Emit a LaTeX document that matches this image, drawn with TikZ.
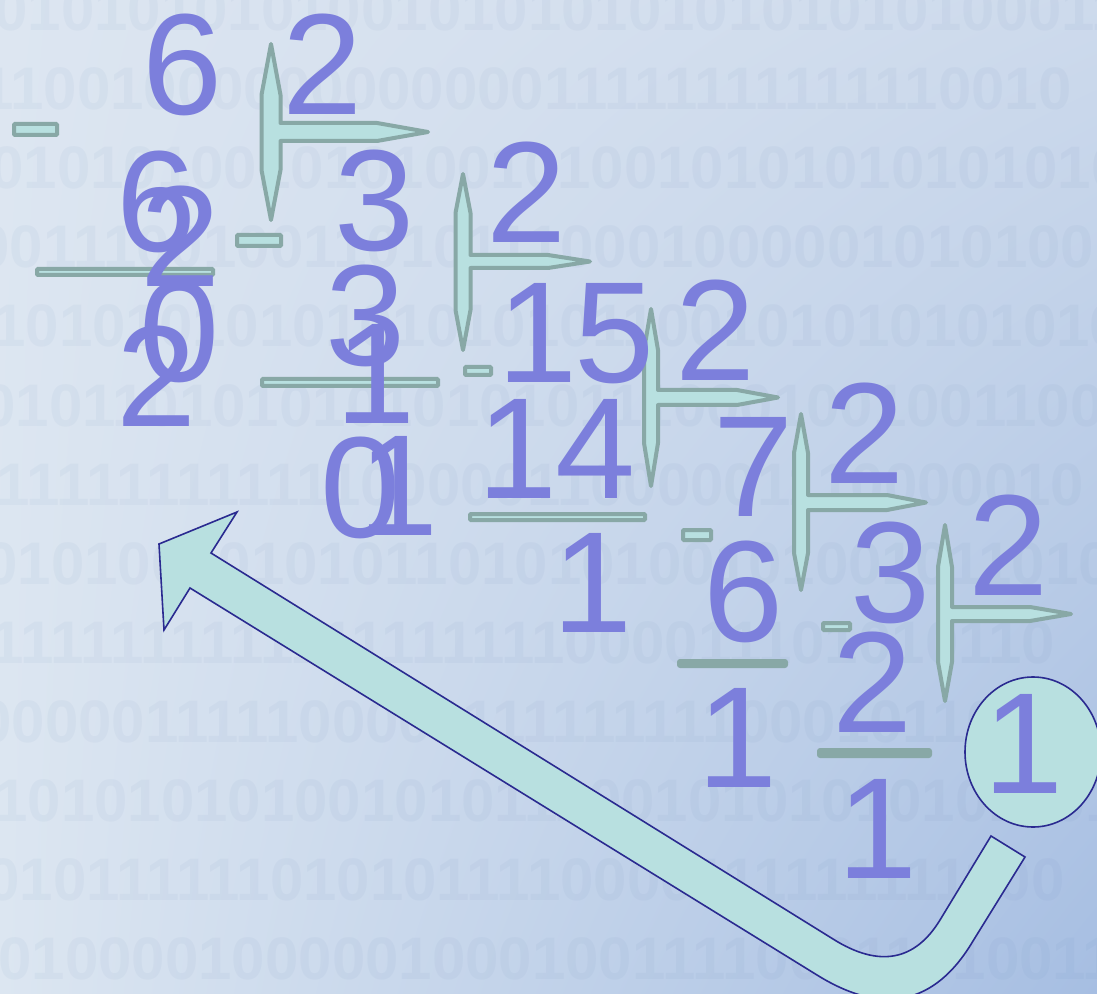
\documentclass[tikz,border=0pt]{standalone}
\usepackage{fontspec}
\setmainfont{Liberation Sans}
\usetikzlibrary{shapes.geometric,shadings}
\definecolor{digit}{HTML}{7C7FDC}
\definecolor{cyanfill}{HTML}{B8E0E0}
\definecolor{grayline}{HTML}{88A8A6}
\definecolor{navy}{HTML}{2A2A90}
\definecolor{bgUL}{HTML}{DDE6F1}
\definecolor{bgUR}{HTML}{CDDAEC}
\definecolor{bgLL}{HTML}{DCE6F1}
\definecolor{bgLR}{HTML}{A6BEE2}
\definecolor{bgdigit}{HTML}{5A7AAE}
\tikzset{
  dg/.style={font=\fontsize{72}{72}\selectfont, text=digit, inner sep=0pt, anchor=base},
  bgrow/.style={font=\fontsize{30}{30}\selectfont\bfseries, text=bgdigit, text opacity=0.055, inner sep=0pt, anchor=base west},
  brk/.style={draw=grayline, fill=cyanfill, line width=2pt, line join=round},
  minusbox/.style={draw=grayline, fill=cyanfill, line width=2pt, rounded corners=0.5pt},
  solidbar/.style={fill=grayline, rounded corners=1.5pt},
  bigarrow/.style={draw=navy, fill=cyanfill, line width=0.8pt, line join=miter},
  circ/.style={ellipse, draw=navy, fill=cyanfill, line width=0.8pt, minimum width=68pt, minimum height=75pt, inner sep=0pt}
}
\begin{document}
\begin{tikzpicture}[x=0.5pt,y=-0.5pt]
% background
\shade[upper left=bgUL, upper right=bgUR, lower left=bgLL, lower right=bgLR] (0,0) rectangle (1097,994);
\useasboundingbox (0,0) rectangle (1097,994);
\begin{scope}
\clip (0,0) rectangle (1097,994);
\node[bgrow] (r1)  at (-6,31)  {0101010101001010101010101010100011};
\node[bgrow] (r2)  at (-20,110) {1100100000000000011111111111110010};
\node[bgrow] (r3)  at (-10,189) {0101010010101001010010101010101010};
\node[bgrow] (r4)  at (-24,268) {0011100100110101110001000001010100};
\node[bgrow] (r5)  at (-8,347) {1010101010101010101100101010101010};
\node[bgrow] (r6)  at (-18,426) {0101101010101010101110001001001100};
\node[bgrow] (r7)  at (-4,505) {1111111111110000011000001110000010};
\node[bgrow] (r8)  at (-16,584) {0101001010101101010100101001011010};
\node[bgrow] (r9)  at (-10,663) {1111111111111111111000011101010110};
\node[bgrow] (r10) at (-22,742) {0000011111000011111111110001011001};
\node[bgrow] (r11) at (-6,821) {1010101010010101110010101010101101};
\node[bgrow] (r12) at (-14,900) {0101111110101011110000111111111100};
\node[bgrow] (r13) at (-2,979) {0100001000001000100111100011010011};
\end{scope}

% big return arrow
\draw[bigarrow] (159,544) -- (237,512) -- (211,553) -- (833,939)
  .. controls (879,968) and (915,961) .. (940,920) -- (991,836) -- (1025,857) -- (973,941)
  .. controls (935,1005) and (883,1016) .. (817,975) -- (190,588) -- (164,630) -- cycle;

% division brackets
\draw[brk] (271,44) -- (280.5,95) -- (280.5,123) -- (377,123) -- (428,132) -- (377,141) -- (280.5,141) -- (280.5,170) -- (271,220) -- (261.5,170) -- (261.5,95) -- cycle;
\draw[brk] (463,174) -- (470.5,213) -- (470.5,255) -- (548,255) -- (590,261.5) -- (548,268) -- (470.5,268) -- (470.5,310) -- (463,350) -- (455.5,310) -- (455.5,213) -- cycle;
\draw[brk] (651,309) -- (658,350) -- (658,390) -- (737,390) -- (778,397.5) -- (737,405) -- (658,405) -- (658,443) -- (651,486) -- (644,443) -- (644,350) -- cycle;
\draw[brk] (801,414) -- (808,453) -- (808,495) -- (887,495) -- (926,502.5) -- (887,510) -- (808,510) -- (808,553) -- (801,590) -- (794,553) -- (794,453) -- cycle;
\draw[brk] (945,525) -- (952,567) -- (952,607) -- (1030,607) -- (1071,614) -- (1030,621) -- (952,621) -- (952,662) -- (945,701) -- (938,662) -- (938,567) -- cycle;

% minus signs
\draw[minusbox] (14,124) rectangle (57,135);
\draw[minusbox] (237,235) rectangle (281,246);
\draw[minusbox] (465,367) rectangle (491,375);
\draw[minusbox] (683,530) rectangle (711,540);
\draw[minusbox] (823,623) rectangle (850,630);

% result bars
\draw[minusbox] (37,269) rectangle (213,275);
\draw[minusbox] (262,379) rectangle (438,386);
\draw[minusbox] (470,514) rectangle (645,520);
\fill[solidbar] (677,659) rectangle (788,668);
\fill[solidbar] (817,748) rectangle (932,758);

% circled last quotient
\node[circ] (ring) at (1033,752) {};

% digits
\node[dg] (d1)  at (183,115) {6};
\node[dg] (d2)  at (323,115) {2};
\node[dg] (d3)  at (157,252) {6};
\node[dg] (d4)  at (181,287) {2};
\node[dg] (d5)  at (180,382) {0};
\node[dg] (d6)  at (157,427) {2};
\node[dg] (d7)  at (375,251) {3};
\node[dg] (d8)  at (366,366) {3};
\node[dg] (d9)  at (376,423) {1};
\node[dg] (d10) at (361,537) {0};
\node[dg] (d11) at (399,535) {1};
\node[dg] (d12) at (527,243) {2};
\node[dg] (d13) at (538,383) {1};
\node[dg] (d14) at (615,383) {5};
\node[dg] (d15) at (518,498) {1};
\node[dg] (d16) at (596,498) {4};
\node[dg] (d17) at (593,632) {1};
\node[dg] (d18) at (716,380) {2};
\node[dg] (d19) at (754,516) {7};
\node[dg] (d20) at (865,483) {2};
\node[dg] (d21) at (744,641) {6};
\node[dg] (d22) at (738,787) {1};
\node[dg] (d23) at (891,622) {3};
\node[dg] (d24) at (1009,595) {2};
\node[dg] (d25) at (873,732) {2};
\node[dg] (d26) at (878,878) {1};
\node[dg] (d27) at (1024,793) {1};
\end{tikzpicture}
\end{document}
